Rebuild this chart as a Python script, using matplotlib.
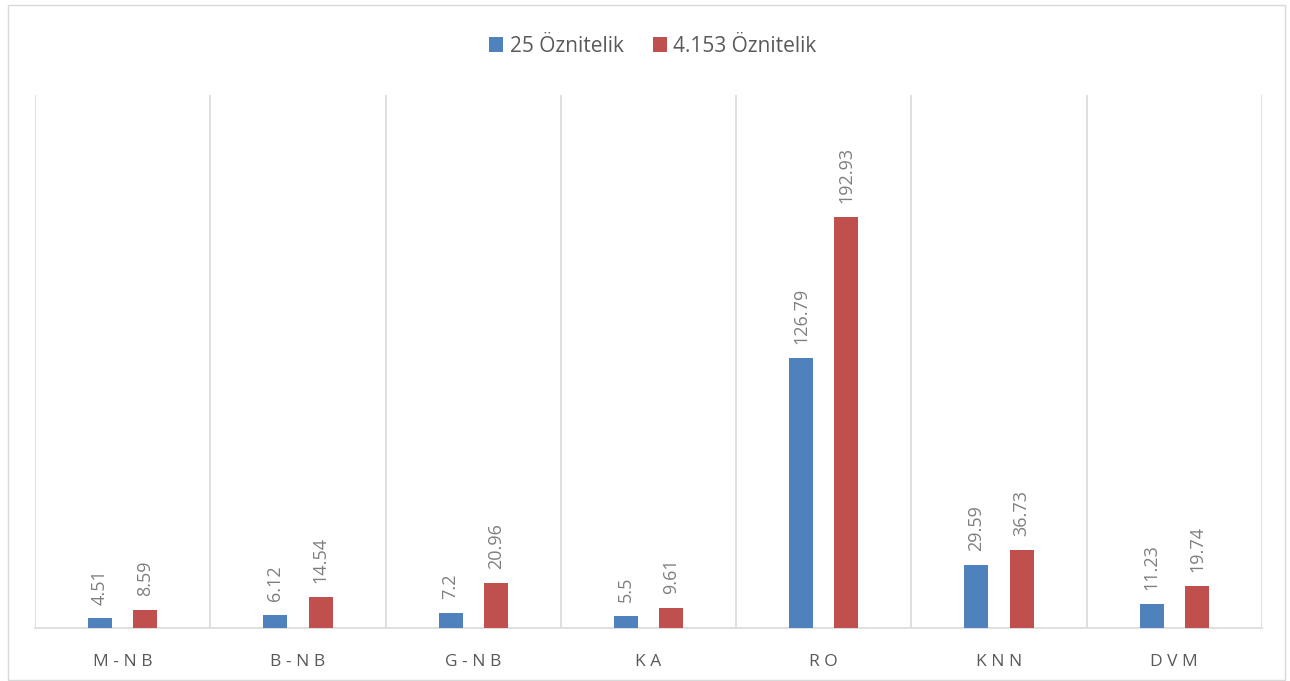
import matplotlib.pyplot as plt
import numpy as np
from matplotlib.patches import Rectangle

categories = ['M-NB', 'B-NB', 'G-NB', 'KA', 'RO', 'KNN', 'DVM']
feat_25 = [4.51, 6.12, 7.2, 5.5, 126.79, 29.59, 11.23]
feat_4153 = [8.59, 14.54, 20.96, 9.61, 192.93, 36.73, 19.74]
series_names = ['25 Öznitelik', '4.153 Öznitelik']

blue = '#4F81BD'
red = '#C0504D'
grid_c = '#D9D9D9'

plt.rcParams['font.family'] = ['Open Sans', 'DejaVu Sans']

fig = plt.figure(figsize=(12.9, 6.81), dpi=100)
ax = fig.add_axes([0.0271, 0.0778, 0.9512, 0.7827])

x = np.arange(len(categories))
w = 0.137
off = 0.129
b1 = ax.bar(x - off, feat_25, w, color=blue, label=series_names[0], zorder=3)
b2 = ax.bar(x + off, feat_4153, w, color=red, label=series_names[1], zorder=3)

for bars, vals in [(b1, feat_25), (b2, feat_4153)]:
    for rect, v in zip(bars, vals):
        ax.annotate(f'{v:g}', (rect.get_x() + rect.get_width() / 2, rect.get_height()),
                    xytext=(0, 10), textcoords='offset points', rotation=90,
                    ha='center', va='bottom', fontsize=13, color='#7F7F7F')

ax.set_xlim(-0.5, len(categories) - 0.5)
ax.set_ylim(0, 250)
for i in range(len(categories) + 1):
    ax.axvline(i - 0.5, color=grid_c, lw=1.2, zorder=1)

ax.set_xticks(x)
ax.set_xticklabels([' '.join(c) for c in categories], fontsize=12.5, color='#595959')
ax.tick_params(axis='x', length=0, pad=19)
ax.set_yticks([])
for s in ['top', 'right', 'left']:
    ax.spines[s].set_visible(False)
ax.spines['bottom'].set_color(grid_c)
ax.spines['bottom'].set_linewidth(1.2)

fig.legend(loc='upper center', bbox_to_anchor=(0.506, 0.975), ncol=2, frameon=False,
           fontsize=15, handlelength=0.7, handleheight=0.7, handletextpad=0.3,
           columnspacing=1.4, labelcolor='#595959')

fig.patches.append(Rectangle((0.006, 0.002), 0.99, 0.99, transform=fig.transFigure,
                             fill=False, edgecolor=grid_c, lw=1))

fig.savefig('out.png', dpi=100)
